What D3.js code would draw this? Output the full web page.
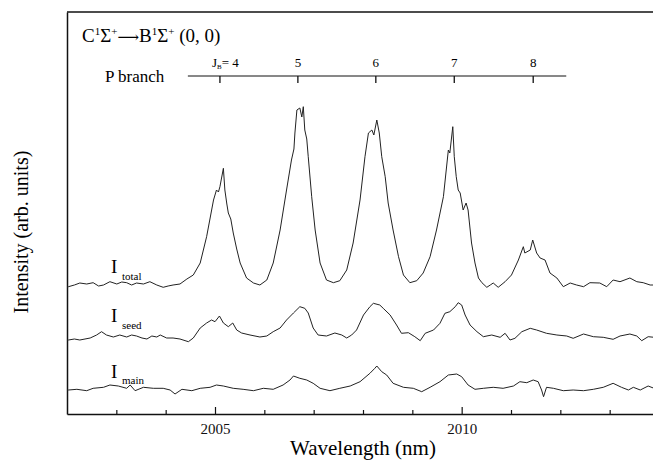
<!DOCTYPE html>
<html>
<head>
<meta charset="utf-8">
<script src="https://d3js.org/d3.v7.min.js"></script>
<style>
body{margin:0;background:#fff}
svg{display:block}
</style>
</head>
<body>
<svg id="spectrum" style="font-family:'Liberation Serif','DejaVu Serif',serif"></svg>
<script>
//traces: [wavelength (nm), intensity (arb. units, offset included)]
var totalData=[[2002.0,127],[2002.03,127.3],[2002.15,129],[2002.26,131],[2002.4,130],[2002.53,131.3],[2002.64,128],[2002.74,129],[2002.87,132.3],[2003.01,130],[2003.11,132],[2003.21,131.3],[2003.31,129],[2003.41,131],[2003.55,130],[2003.68,132.3],[2003.82,129],[2003.95,126.7],[2004.05,128],[2004.15,129],[2004.29,130],[2004.43,135],[2004.56,139],[2004.7,151],[2004.83,177.3],[2004.97,214],[2005.03,224],[2005.07,222],[2005.1,227.3],[2005.17,245.7],[2005.2,224],[2005.24,210],[2005.27,201],[2005.32,195],[2005.37,181],[2005.44,165],[2005.51,151],[2005.64,136],[2005.78,131],[2005.91,129],[2006.05,134],[2006.18,151],[2006.32,184],[2006.45,224],[2006.55,254],[2006.6,265],[2006.62,281],[2006.66,304],[2006.72,306],[2006.76,297],[2006.79,307.3],[2006.82,284],[2006.86,275],[2006.89,257.3],[2006.96,217.3],[2007.03,184],[2007.13,151],[2007.26,134],[2007.4,131.3],[2007.53,133.3],[2007.67,144],[2007.8,171],[2007.94,214],[2008.04,257.3],[2008.11,281],[2008.18,284],[2008.22,279],[2008.28,294],[2008.33,281],[2008.38,257.3],[2008.45,237.3],[2008.51,211],[2008.61,184],[2008.72,157.3],[2008.82,139],[2008.95,131.3],[2009.09,133.3],[2009.22,141],[2009.36,157.3],[2009.49,184],[2009.63,217.3],[2009.73,264],[2009.76,261],[2009.82,287.3],[2009.85,257.3],[2009.89,237.3],[2009.93,224],[2009.97,221],[2010.03,204],[2010.09,211],[2010.13,204],[2010.2,171],[2010.27,151],[2010.34,136],[2010.41,131.3],[2010.51,126.7],[2010.58,129],[2010.64,131],[2010.74,126.7],[2010.88,132.3],[2011.01,139],[2011.15,154],[2011.25,167.3],[2011.28,161],[2011.39,164],[2011.44,174],[2011.52,161],[2011.59,156],[2011.69,154],[2011.79,141],[2011.93,136],[2012.06,127.3],[2012.2,131],[2012.33,129],[2012.47,127.3],[2012.6,131.3],[2012.8,131],[2012.94,127.3],[2013.07,134],[2013.21,132.3],[2013.41,136],[2013.55,132.3],[2013.68,131.3],[2013.82,129],[2013.9,129]];
var seedData=[[2002.0,74],[2002.03,74],[2002.15,75],[2002.26,74],[2002.47,76],[2002.6,79],[2002.7,82.3],[2002.8,79],[2002.94,77],[2003.07,79],[2003.21,77],[2003.31,79],[2003.41,78],[2003.52,76],[2003.62,75],[2003.72,78],[2003.82,77],[2003.89,79],[2004.02,76],[2004.15,76],[2004.29,75],[2004.46,72.3],[2004.56,76],[2004.7,86],[2004.83,91],[2004.93,94],[2005.0,92.3],[2005.09,98],[2005.17,91],[2005.27,87.3],[2005.36,91],[2005.44,84],[2005.54,81],[2005.71,79],[2005.91,77],[2006.05,78],[2006.18,82.3],[2006.32,86],[2006.45,94],[2006.59,101],[2006.72,107.3],[2006.82,105.7],[2006.89,101],[2006.99,86],[2007.09,79],[2007.26,78],[2007.43,81],[2007.57,79],[2007.67,76],[2007.77,79],[2007.87,84],[2008.01,99],[2008.14,107.3],[2008.21,110.7],[2008.34,109],[2008.41,105.7],[2008.55,99],[2008.68,89],[2008.78,80.7],[2008.92,81.3],[2009.05,77.3],[2009.16,73.3],[2009.26,80.7],[2009.43,84],[2009.56,90.7],[2009.66,100.7],[2009.76,102.3],[2009.87,107.3],[2009.93,111.3],[2010.0,109],[2010.07,99],[2010.17,89],[2010.31,82.3],[2010.44,77.3],[2010.61,79],[2010.78,76.7],[2010.88,80.7],[2010.98,74],[2011.08,75.7],[2011.22,82.3],[2011.39,85.7],[2011.52,84],[2011.72,80.7],[2011.93,79],[2012.13,78],[2012.26,75.7],[2012.47,80],[2012.67,77.3],[2012.87,76.7],[2013.07,74.7],[2013.21,78],[2013.41,80],[2013.55,78],[2013.65,73.3],[2013.78,77.3],[2013.9,76.7]];
var mainData=[[2002.0,24],[2002.03,24],[2002.2,24.7],[2002.4,23.3],[2002.53,25.7],[2002.74,26.7],[2002.87,29],[2003.04,28],[2003.21,25.7],[2003.28,29],[2003.38,23.3],[2003.55,26.7],[2003.75,25.7],[2003.95,25.7],[2004.09,24],[2004.19,20],[2004.33,24.7],[2004.53,23.3],[2004.7,25.7],[2004.9,26.7],[2005.03,29],[2005.17,28],[2005.37,25.7],[2005.57,24.7],[2005.78,23.3],[2005.98,25.7],[2006.18,24.7],[2006.38,29],[2006.52,34],[2006.59,38],[2006.72,35.7],[2006.86,34],[2006.99,30.7],[2007.13,25.7],[2007.33,23.3],[2007.53,25.7],[2007.74,28],[2007.94,32.3],[2008.14,40.7],[2008.24,45.7],[2008.28,48],[2008.38,42.3],[2008.48,39],[2008.61,30.7],[2008.82,26.7],[2009.02,25.7],[2009.19,22.3],[2009.36,26.7],[2009.56,32.3],[2009.73,39],[2009.9,40],[2010.0,37.3],[2010.13,29],[2010.27,24.7],[2010.44,25.7],[2010.64,26.7],[2010.84,25.7],[2011.05,28],[2011.18,32.3],[2011.32,31.3],[2011.45,34],[2011.55,32.3],[2011.62,24],[2011.66,17.3],[2011.72,26.7],[2011.86,25.7],[2012.06,23.3],[2012.26,24],[2012.47,23.3],[2012.67,24.7],[2012.87,26.7],[2013.07,30.7],[2013.24,26.7],[2013.38,24],[2013.48,26.7],[2013.62,24],[2013.78,28],[2013.9,25.7]];

//P branch rotational lines, J_B = 4..8
var pBranchJ=[4,5,6,7,8];
var pBranchWl=[2005.10,2006.68,2008.26,2009.85,2011.45];
var pBranchSpan=[2004.45,2012.12];

var majorTicks=[2005,2010];
var minorTicks=[2003,2004,2006,2007,2008,2009,2011,2012,2013];

var screen={width:653,height:460}
var svg=d3.select("#spectrum")
    .attr("width",screen.width)
    .attr("height",screen.height)

var xScale=d3.scaleLinear()
    .domain([2002,2014])
    .range([67,659])
var yScale=d3.scaleLinear()
    .domain([0,402])
    .range([414,12])

//frame: top line + left axis
svg.append("line")
    .attr("x1",67).attr("x2",screen.width)
    .attr("y1",yScale(402)).attr("y2",yScale(402))
    .attr("stroke","#111").attr("stroke-width",1.5)
svg.append("g")
    .attr("transform","translate(67,0)")
    .call(d3.axisLeft(yScale).tickValues([]).tickSizeOuter(0))
    .select(".domain").attr("stroke","#111").attr("stroke-width",1.5)

//bottom axis, ticks pointing inward
var minorAxis=svg.append("g")
    .attr("transform","translate(0,"+yScale(0)+")")
    .call(d3.axisBottom(xScale).tickValues(minorTicks).tickSize(-4).tickSizeOuter(0).tickFormat(""))
minorAxis.select(".domain").attr("stroke","#111").attr("stroke-width",1.5)
minorAxis.selectAll(".tick line").attr("stroke","#111").attr("stroke-width",1.2)

var majorAxis=svg.append("g")
    .attr("transform","translate(0,"+yScale(0)+")")
    .call(d3.axisBottom(xScale).tickValues(majorTicks).tickSize(-7).tickSizeOuter(0).tickPadding(9).tickFormat(d3.format("d")))
majorAxis.attr("font-family",null).attr("font-size",15)
majorAxis.select(".domain").remove()
majorAxis.selectAll(".tick line").attr("stroke","#111").attr("stroke-width",1.2)
majorAxis.selectAll(".tick text").attr("fill","#111")

//axis titles
svg.append("text")
    .attr("x",363).attr("y",455)
    .attr("text-anchor","middle")
    .attr("font-size",21)
    .text("Wavelength (nm)")
svg.append("text")
    .attr("transform","translate(28,232) rotate(-90)")
    .attr("text-anchor","middle")
    .attr("font-size",20)
    .text("Intensity (arb. units)")

//the three traces
var line=d3.line()
    .x(function(d){return xScale(d[0])})
    .y(function(d){return yScale(d[1])})
var traces=[totalData,seedData,mainData]
svg.selectAll("path.trace")
    .data(traces)
    .enter()
    .append("path")
    .attr("class","trace")
    .attr("d",line)
    .attr("fill","none")
    .attr("stroke","#222")
    .attr("stroke-width",1)
    .attr("stroke-linejoin","round")

//trace labels
var labels=[{sub:"total",y:273,sy:280},{sub:"seed",y:322,sy:329},{sub:"main",y:378,sy:384}]
var lab=svg.selectAll("text.lab")
    .data(labels)
    .enter()
    .append("text")
    .attr("class","lab")
    .attr("x",111)
    .attr("y",function(d){return d.y})
    .attr("font-size",19)
lab.append("tspan").text("I")
lab.append("tspan")
    .attr("x",122)
    .attr("y",function(d){return d.sy})
    .attr("font-size",11)
    .text(function(d){return d.sub})

//transition label
var title=svg.append("text")
    .attr("x",82).attr("y",42)
    .attr("font-size",19)
title.append("tspan").text("C")
title.append("tspan").attr("dy",-7).attr("font-size",11).text("1")
title.append("tspan").attr("dy",7).text("Σ")
title.append("tspan").attr("dy",-7).attr("font-size",11).text("+")
title.append("tspan").attr("dy",7).attr("font-size",15).text("⟶")
title.append("tspan").text("B")
title.append("tspan").attr("dy",-7).attr("font-size",11).text("1")
title.append("tspan").attr("dy",7).text("Σ")
title.append("tspan").attr("dy",-7).attr("font-size",11).text("+")
title.append("tspan").attr("dy",7).text(" (0, 0)")

//P branch comb
svg.append("text")
    .attr("x",105).attr("y",82)
    .attr("font-size",17)
    .text("P branch")
svg.append("line")
    .attr("x1",xScale(pBranchSpan[0])).attr("x2",xScale(pBranchSpan[1]))
    .attr("y1",76).attr("y2",76)
    .attr("stroke","#111").attr("stroke-width",1)
svg.selectAll("line.pb")
    .data(pBranchWl)
    .enter()
    .append("line")
    .attr("class","pb")
    .attr("x1",function(d){return xScale(d)})
    .attr("x2",function(d){return xScale(d)})
    .attr("y1",76).attr("y2",83)
    .attr("stroke","#111").attr("stroke-width",1.3)
var pbLab=svg.selectAll("text.pbl")
    .data(pBranchWl)
    .enter()
    .append("text")
    .attr("class","pbl")
    .attr("x",function(d){return xScale(d)})
    .attr("y",67)
    .attr("text-anchor","middle")
    .attr("font-size",13)
pbLab.each(function(d,i){
    var t=d3.select(this)
    if(i==0){
        t.attr("text-anchor","start").attr("x",xScale(d)-8)
        t.append("tspan").text("J")
        t.append("tspan").attr("dy",2).attr("font-size",7).text("B")
        t.append("tspan").attr("dy",-2).text("= "+pBranchJ[i])
    }else{
        t.text(pBranchJ[i])
    }
})
</script>
</body>
</html>
